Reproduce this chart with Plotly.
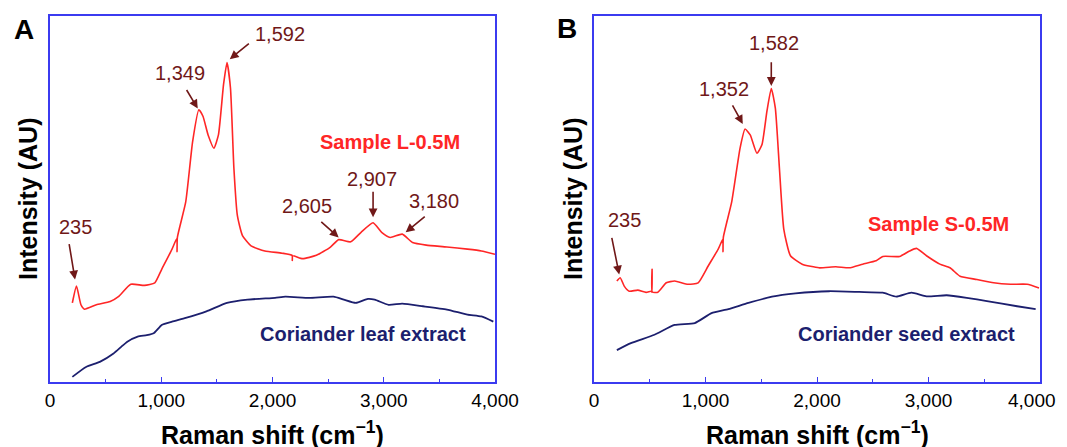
import plotly.graph_objects as go

# Panel A: coriander leaf extract / Sample L-0.5M (x in cm^-1, y in arbitrary units)
leaf_sample_x = [201, 238, 278, 309, 417, 541, 618, 726, 849, 942, 1004, 1097, 1140, 1142, 1145,
                 1220, 1282, 1338, 1375, 1421, 1473, 1514, 1560, 1591, 1622, 1653, 1684, 1730,
                 1807, 1931, 2085, 2176, 2178, 2181, 2270, 2394, 2518, 2595, 2703, 2796, 2904,
                 2981, 3058, 3166, 3259, 3382, 3568, 3753, 3877, 4000]
leaf_sample_y = [21.6, 26.2, 21.1, 19.9, 21.1, 22.0, 23.4, 26.7, 26.4, 27.1, 30.8, 36.3, 39.2, 35.6, 39.5,
                 49.2, 65.7, 74.4, 72.6, 67.5, 63.9, 67.5, 81.3, 87.3, 80.4, 58.4, 45.5, 40.0,
                 37.2, 35.8, 35.2, 34.6, 33.2, 34.5, 33.7, 34.6, 36.8, 38.9, 38.3, 40.9, 43.5,
                 40.9, 39.5, 40.4, 38.1, 37.4, 36.9, 36.3, 35.8, 34.9]

leaf_extract_x = [201, 324, 448, 571, 640, 695, 788, 870, 935, 1004, 1097, 1220, 1406, 1591, 1776,
                  2023, 2116, 2332, 2548, 2641, 2749, 2857, 2919, 3043, 3166, 3352, 3568, 3753,
                  3877, 3985]
leaf_extract_y = [1.4, 4.1, 5.5, 7.8, 9.6, 11.0, 12.4, 12.8, 13.4, 15.6, 16.5, 17.5, 19.3, 21.6, 22.5,
                  23.0, 23.3, 23.0, 23.3, 22.5, 21.6, 22.7, 22.5, 21.1, 21.4, 20.7, 19.8, 18.4,
                  17.9, 16.5]

# Panel B: coriander seed extract / Sample S-0.5M
seed_sample_x = [205, 235, 271, 316, 392, 467, 512, 519, 521, 523, 572, 648, 723, 843, 934, 1024,
                 1114, 1155, 1157, 1160, 1235, 1310, 1355, 1401, 1461, 1506, 1551, 1590, 1626,
                 1663, 1702, 1762, 1867, 2018, 2169, 2289, 2410, 2530, 2590, 2741, 2831, 2892,
                 2982, 3102, 3193, 3283, 3434, 3584, 3735, 3885, 3991]
seed_sample_y = [27.6, 28.5, 26.2, 24.8, 25.1, 24.5, 24.8, 24.6, 30.8, 24.6, 24.5, 27.1, 27.6, 26.7, 27.1, 31.7,
                 36.3, 39.0, 35.6, 39.5, 49.2, 63.9, 69.1, 67.5, 62.5, 64.8, 74.0, 80.2, 74.9,
                 58.4, 41.8, 34.5, 32.2, 31.2, 31.5, 31.2, 32.2, 33.1, 34.3, 34.3, 35.8, 36.5,
                 34.5, 32.2, 31.2, 28.9, 28.0, 27.1, 26.7, 26.7, 25.7]

seed_extract_x = [205, 331, 542, 723, 904, 1054, 1205, 1385, 1596, 1807, 2108, 2379, 2590, 2711,
                  2846, 2982, 3163, 3343, 3524, 3795, 3961]
seed_extract_y = [8.7, 10.6, 12.9, 15.6, 16.1, 18.8, 19.9, 21.6, 23.3, 24.2, 24.8, 24.6, 24.4, 23.3,
                  24.4, 23.4, 23.7, 23.0, 22.1, 20.7, 19.9]

x_tickvals = [0, 1000, 2000, 3000, 4000]
x_ticktext = ["0", "1,000", "2,000", "3,000", "4,000"]

# peak labels: (text, text_x, text_y, tail_x, tail_y, head_x, head_y)
peaks_a = [
    ("235", 232, 42.3, 170, 38.1, 225, 28.0),
    ("1,349", 1168, 84.3, 1220, 80.2, 1328, 74.7),
    ("1,592", 2070, 95.1, 1801, 92.8, 1616, 88.2),
    ("2,605", 2311, 48.1, 2425, 44.1, 2595, 39.5),
    ("2,907", 2898, 55.6, 2904, 52.4, 2904, 45.0),
    ("3,180", 3450, 49.4, 3382, 45.5, 3197, 40.9),
]
peaks_b = [
    ("235", 271, 44.4, 157, 39.8, 226, 29.4),
    ("1,352", 1169, 80.0, 1235, 76.0, 1334, 70.5),
    ("1,582", 1617, 92.6, 1590, 87.8, 1590, 80.9),
]

RED = "#ff2626"
NAVY = "#1c1f6e"
BROWN = "#701818"
FRAME = "#3b3bf0"
W, H = 1067, 447
OFF = 8  # page body margin shifts the figure by this many pixels


def px(x):
    return (x - OFF) / W


def py(y):
    return 1 - (y - OFF) / H


fig = go.Figure()
fig.add_trace(go.Scatter(x=leaf_sample_x, y=leaf_sample_y, mode="lines",
                         line=dict(color=RED, width=1.6, shape="spline", smoothing=0.5)))
fig.add_trace(go.Scatter(x=leaf_extract_x, y=leaf_extract_y, mode="lines",
                         line=dict(color=NAVY, width=1.8, shape="spline", smoothing=0.5)))
fig.add_trace(go.Scatter(x=seed_sample_x, y=seed_sample_y, mode="lines", xaxis="x2", yaxis="y2",
                         line=dict(color=RED, width=1.6, shape="spline", smoothing=0.5)))
fig.add_trace(go.Scatter(x=seed_extract_x, y=seed_extract_y, mode="lines", xaxis="x2", yaxis="y2",
                         line=dict(color=NAVY, width=1.8, shape="spline", smoothing=0.5)))

ydom = [py(382), py(16)]
tick_font = dict(family="Arial, Liberation Sans", size=19, color="black")
xcommon = dict(range=[0, 4000], tickmode="array", tickvals=x_tickvals,
               showgrid=False, zeroline=False,
               showline=True, mirror=True, linecolor=FRAME, linewidth=1.6,
               ticks="inside", ticklen=5, tickcolor=FRAME, tickwidth=1.2,
               minor=dict(dtick=500, ticks="inside", ticklen=3, tickcolor=FRAME),
               tickfont=tick_font)
ycommon = dict(range=[0, 100], showticklabels=False, showgrid=False, zeroline=False,
               showline=True, mirror=True, linecolor=FRAME, linewidth=1.6, ticks="")

fig.update_layout(
    width=W, height=H, showlegend=False,
    paper_bgcolor="white", plot_bgcolor="white",
    margin=dict(l=0, r=0, t=0, b=0, autoexpand=False),
    font=dict(family="Arial, Liberation Sans"),
    xaxis=dict(domain=[px(50), px(495)], anchor="y", ticktext=x_ticktext, **xcommon),
    yaxis=dict(domain=ydom, anchor="x", **ycommon),
    # last label of panel B sits at the page edge, drawn separately below so it is not clipped
    xaxis2=dict(domain=[px(594), px(1040)], anchor="y2", ticktext=x_ticktext[:-1] + [""], **xcommon),
    yaxis2=dict(domain=ydom, anchor="x2", **ycommon),
)

annotations = [dict(x=x_tickvals[-1], y=py(400), xref="x2", yref="paper", text=x_ticktext[-1],
                    showarrow=False, xanchor="right", yanchor="middle", xshift=18,
                    font=tick_font)]
for peaks, xr, yr in [(peaks_a, "x", "y"), (peaks_b, "x2", "y2")]:
    for label, tx, ty, ax, ay, hx, hy in peaks:
        annotations.append(dict(x=tx, y=ty, xref=xr, yref=yr, text=label, showarrow=False,
                                xanchor="center", yanchor="middle",
                                font=dict(size=20, color=BROWN)))
        annotations.append(dict(x=hx, y=hy, ax=ax, ay=ay, xref=xr, yref=yr, axref=xr, ayref=yr,
                                text="", showarrow=True, arrowhead=2, arrowsize=1.1,
                                arrowwidth=1.6, arrowcolor=BROWN))

series_labels = [
    ("Sample L-0.5M", 3052, 65.7, "x", "y", RED),
    ("Coriander leaf extract", 2817, 13.0, "x", "y", NAVY),
    ("Sample S-0.5M", 3087, 43.2, "x2", "y2", RED),
    ("Coriander seed extract", 2807, 13.0, "x2", "y2", NAVY),
]
for text, x, y, xr, yr, col in series_labels:
    annotations.append(dict(x=x, y=y, xref=xr, yref=yr, text=f"<b>{text}</b>", showarrow=False,
                            xanchor="center", yanchor="middle",
                            font=dict(size=20, color=col)))

title_font = dict(size=25, color="black")
for cx in [(50 + 495) / 2, (594 + 1040) / 2]:
    annotations.append(dict(x=px(cx), y=py(433), xref="paper", yref="paper",
                            xanchor="center", yanchor="middle",
                            text="<b>Raman shift (cm<sup>−1</sup>)</b>", showarrow=False,
                            font=title_font))
for cx in [28, 573]:
    annotations.append(dict(x=px(cx), y=py(199), xref="paper", yref="paper",
                            xanchor="center", yanchor="middle",
                            text="<b>Intensity (AU)</b>", showarrow=False, textangle=-90,
                            font=title_font))
for text, cx, cy in [("A", 24, 29), ("B", 567, 28)]:
    annotations.append(dict(x=px(cx), y=py(cy), xref="paper", yref="paper",
                            xanchor="center", yanchor="middle",
                            text=f"<b>{text}</b>", showarrow=False,
                            font=dict(size=28, color="black")))

fig.update_layout(annotations=annotations)
fig.write_html("out.html")
